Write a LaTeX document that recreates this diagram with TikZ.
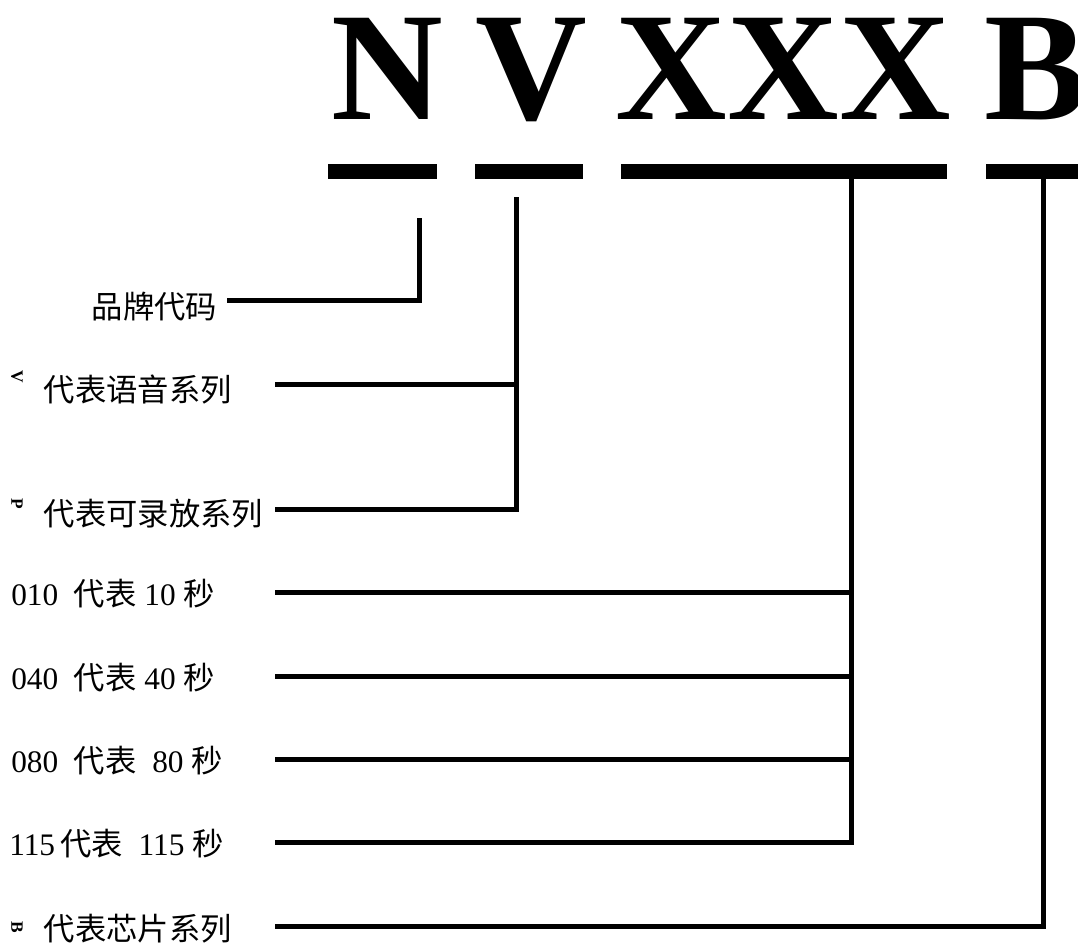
\documentclass[tikz,border=0pt]{standalone}
\usepackage{fontspec}
\setmainfont{Liberation Serif}
\newfontfamily\cjk{Noto Sans CJK SC}
\newcommand{\zh}[1]{{\cjk #1}}
\usetikzlibrary{positioning,calc}
\tikzset{%
    big/.style  = {font=\fontsize{116pt}{120pt}\selectfont\bfseries,
        inner sep=0pt, anchor=base},
    bar/.style  = {fill=black, rectangle, inner sep=0pt,
        minimum height=11.25pt},
    txt/.style  = {font=\fontsize{23.5pt}{28pt}\selectfont,
        inner sep=0pt, anchor=base west},
    tag/.style  = {font=\fontsize{13pt}{13pt}\selectfont\bfseries,
        inner sep=0pt, rotate=-90},
    wire/.style = {line width=3.75pt},
}

\begin{document}
\begin{tikzpicture}[x=0.75pt, y=-0.75pt]
    \useasboundingbox (0,0) rectangle (1078,946);
    % We start by placing the letters of the code
    \node [big] (letN) at (387.5,119) {N};
    \node [big] (letV) at (531,119) {V};
    \node [big] (letX) at (783.5,119) {XXX};
    \node [big] (letB) at (1036,119) {B};

    % bars under the letters
    \node [bar, minimum width=81.75pt] (barN) at (382.5,171.5) {};
    \node [bar, minimum width=81pt] (barV) at (529,171.5) {};
    \node [bar, minimum width=244.5pt] (barX) at (784,171.5) {};
    \node [bar, minimum width=85.5pt] (barB) at (1043,171.5) {};

    % labels on the left
    \node [txt] (brand) at (91.5,318) {\zh{品牌代码}};
    \node [tag] (tagV) at (17,377) {V};
    \node [txt] (voice) at (43.5,401) {\zh{代表语音系列}};
    \node [tag] (tagP) at (17,504) {P};
    \node [txt] (rec) at (43.5,525) {\zh{代表可录放系列}};
    \node [txt] (t10) at (11,605) {010\ \ \zh{代表} 10 \zh{秒}};
    \node [txt] (t40) at (11,689) {040\ \ \zh{代表} 40 \zh{秒}};
    \node [txt] (t80) at (11,772) {080\ \ \zh{代表}\ \ 80 \zh{秒}};
    \node [txt] (t115) at (9,855) {115\,\zh{代表}\ \ 115 \zh{秒}};
    \node [tag] (tagB) at (17,927) {B};
    \node [txt] (chip) at (43.5,940) {\zh{代表芯片系列}};

    % Once the nodes are placed, connecting them is easy.
    \coordinate (nTop) at (419,218);
    \coordinate (nEnd) at (227,300);
    \draw [wire] (nTop) |- (nEnd);

    \coordinate (vTop) at (516,197);
    \coordinate (vEnd1) at (275,384);
    \coordinate (vEnd2) at (275,509);
    \draw [wire] (vTop) |- (vEnd2);
    \draw [wire] (vEnd1) -- (vEnd1 -| vTop);

    \coordinate (xTop) at ([xshift=50.25pt]barX.south);
    \coordinate (xEnd4) at (275,842);
    \draw [wire] (xTop) |- (xEnd4);
    \foreach \k/\y in {1/592,2/676,3/759}{
        \coordinate (xEnd\k) at (275,\y);
        \draw [wire] (xEnd\k) -- (xEnd\k -| xTop);
    }

    \coordinate (bEnd) at (275,926);
    \draw [wire] (barB.south) |- (bEnd);
\end{tikzpicture}
\end{document}
